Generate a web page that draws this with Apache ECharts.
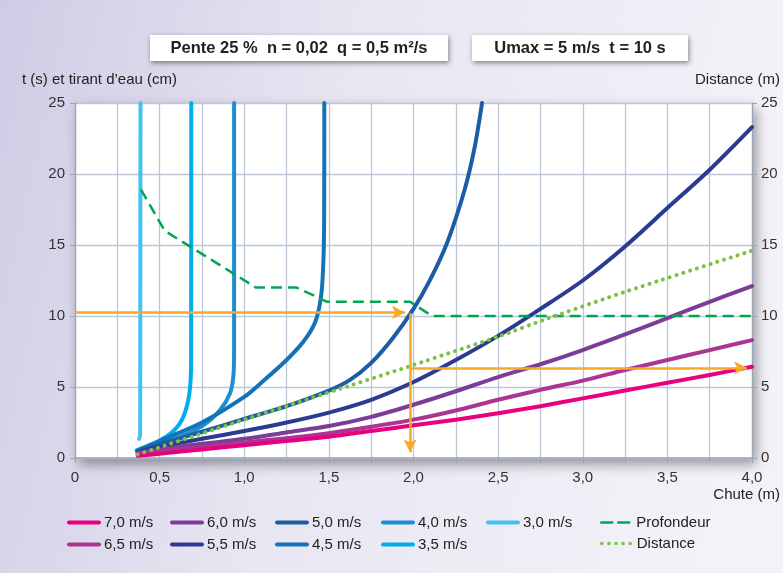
<!DOCTYPE html>
<html>
<head>
<meta charset="utf-8">
<script src="https://cdn.jsdelivr.net/npm/echarts@6/dist/echarts.min.js"></script>
<style>
html,body{margin:0;padding:0;}
#chart{width:783px;height:573px;}
</style>
</head>
<body>
<div id="chart"></div>
<script>
// ---- data (x = Chute (m), y = t (s) / tirant d'eau (cm) / Distance (m)) ----
const xTickValues = [0, 0.5, 1.0, 1.5, 2.0, 2.5, 3.0, 3.5, 4.0];
const xTickLabels = ['0', '0,5', '1,0', '1,5', '2,0', '2,5', '3,0', '3,5', '4,0'];
const yTickLabels = ['0', '5', '10', '15', '20', '25'];

const v30 = [[0.379,1.35],[0.385,1.6],[0.387,25]];
const v35 = [[0.365,0.55],[0.443,0.92],[0.54,1.5],[0.62,2.44],[0.66,3.6],[0.68,5.0],[0.686,6.8],[0.687,25]];
const v40 = [[0.37,0.5],[0.48,0.92],[0.62,1.5],[0.76,2.32],[0.857,3.38],[0.916,4.56],[0.936,5.8],[0.94,7.5],[0.94,25]];
const v45 = [[0.37,0.5],[0.5,1.2],[0.75,2.5],[1.0,4.3],[1.11,5.4],[1.25,6.9],[1.35,8.2],[1.42,9.6],[1.455,11.5],[1.468,14],[1.472,17],[1.473,25]];
const v50 = [[0.37,0.45],[0.5,0.95],[0.75,1.85],[1.0,2.75],[1.25,3.65],[1.5,4.75],[1.625,5.5],[1.75,6.7],[1.875,8.4],[2.0,10.5],[2.1,12.6],[2.2,15.2],[2.3,18.8],[2.36,21.8],[2.405,25]];
const v55 = [[0.37,0.42],[0.5,0.8],[0.75,1.35],[1.0,1.9],[1.25,2.5],[1.5,3.2],[1.75,4.1],[2.0,5.35],[2.25,6.9],[2.5,8.6],[2.75,10.5],[3.0,12.5],[3.25,14.9],[3.5,17.6],[3.75,20.3],[4.0,23.3]];
const v60 = [[0.37,0.35],[0.5,0.6],[0.75,1.0],[1.0,1.35],[1.25,1.8],[1.5,2.25],[1.75,2.9],[2.0,3.75],[2.25,4.7],[2.5,5.7],[2.75,6.6],[3.0,7.6],[3.25,8.7],[3.5,9.85],[3.75,11.0],[4.0,12.1]];
const v65 = [[0.37,0.3],[0.5,0.5],[0.75,0.8],[1.0,1.1],[1.25,1.4],[1.5,1.75],[1.75,2.2],[2.0,2.7],[2.25,3.35],[2.5,4.1],[2.75,4.8],[3.0,5.45],[3.25,6.2],[3.5,6.9],[3.75,7.6],[4.0,8.3]];
const v70 = [[0.37,0.15],[0.5,0.3],[0.75,0.6],[1.0,0.9],[1.25,1.2],[1.5,1.5],[1.75,1.9],[2.0,2.3],[2.25,2.7],[2.5,3.15],[2.75,3.65],[3.0,4.2],[3.25,4.75],[3.5,5.3],[3.75,5.85],[4.0,6.43]];
const profondeur = [[0.39,18.9],[0.53,16.0],[1.07,12.0],[1.31,12.0],[1.49,11.0],[1.98,11.0],[2.11,10.0],[4.0,10.0]];
const distance = [[0.37,0.25],[1.0,2.7],[1.625,5.1],[2.0,6.55],[2.5,8.55],[2.8,9.85],[3.25,11.7],[4.0,14.6]];

const arrowT = [[0, 10.25], [1.95, 10.25]];
const arrowChute = [[1.98, 10.2], [1.98, 0.4]];
const arrowDist = [[1.98, 6.35], [3.97, 6.35]];

const titleLeft = 'Pente 25 %  n = 0,02  q = 0,5 m²/s';
const titleRight = 'Umax = 5 m/s  t = 10 s';

// ---- chart ----
const FONT = '"Liberation Sans", Arial, Helvetica, sans-serif';
const chart = echarts.init(document.getElementById('chart'), null, {renderer: 'canvas'});

const curveDefs = [
  {name: '3,0 m/s', data: v30, color: '#45c1f1', smooth: false},
  {name: '3,5 m/s', data: v35, color: '#00aeef', smooth: 0.3},
  {name: '4,0 m/s', data: v40, color: '#1b8fd2', smooth: 0.3},
  {name: '4,5 m/s', data: v45, color: '#1472b9', smooth: 0.3},
  {name: '5,0 m/s', data: v50, color: '#1d5ca6', smooth: 0.3},
  {name: '5,5 m/s', data: v55, color: '#2c3b92', smooth: 0.3},
  {name: '6,0 m/s', data: v60, color: '#7b3d97', smooth: 0.3},
  {name: '6,5 m/s', data: v65, color: '#ac3592', smooth: 0.3},
  {name: '7,0 m/s', data: v70, color: '#e8007f', smooth: 0.3}
];

const series = curveDefs.map(d => ({
  name: d.name, type: 'line', data: d.data, smooth: d.smooth,
  showSymbol: false, symbol: 'none', z: 3,
  lineStyle: {color: d.color, width: 4, cap: 'round', join: 'round'},
  itemStyle: {color: d.color},
  emphasis: {disabled: true}
}));

series.push({
  name: 'Profondeur', type: 'line', data: profondeur, showSymbol: false, symbol: 'none', z: 4,
  lineStyle: {color: '#00a651', width: 2.5, type: [11, 6]},
  itemStyle: {color: '#00a651'}
});
series.push({
  name: 'Distance', type: 'line', yAxisIndex: 1, data: distance, showSymbol: false, symbol: 'none', z: 4,
  smooth: 0.2,
  lineStyle: {color: '#7cc242', width: 4, type: [0.1, 7], cap: 'round'},
  itemStyle: {color: '#7cc242'}
});

const arrowStyle = {color: '#f8a824', width: 2.5, type: 'solid'};
function arrowSeries(path) {
  return {
    type: 'line', data: [], silent: true, z: 5,
    markLine: {
      silent: true, symbol: ['none', 'arrow'], symbolSize: [10, 13],
      label: {show: false}, lineStyle: arrowStyle, animation: false,
      data: [[{coord: path[0]}, {coord: path[1]}]]
    }
  };
}
series.push(arrowSeries(arrowT), arrowSeries(arrowChute), arrowSeries(arrowDist));

const legendText = {fontFamily: FONT, fontSize: 15, color: '#222'};
function legendCol(names, left, lw) {
  return {
    data: names, orient: 'vertical', left: left, top: 510, itemGap: 7,
    itemWidth: 30, itemHeight: 14, textStyle: legendText, selectedMode: false,
    itemStyle: {opacity: 0},
    lineStyle: {width: lw || 4, cap: 'round'}
  };
}

const option = {
  animation: false,
  backgroundColor: new echarts.graphic.LinearGradient(0, 0, 1, 0.3, [
    {offset: 0, color: '#d0cbe5'},
    {offset: 0.45, color: '#e8e6f2'},
    {offset: 1, color: '#f3f2f8'}
  ]),
  textStyle: {fontFamily: FONT},
  grid: {
    left: 75, right: 31, top: 103, bottom: 115, show: true,
    backgroundColor: '#ffffff', borderWidth: 0,
    shadowColor: 'rgba(0,0,0,0.4)', shadowBlur: 12, shadowOffsetX: 4, shadowOffsetY: 6
  },
  xAxis: {
    type: 'value', min: 0, max: 4, interval: 0.25,
    axisLine: {show: true, lineStyle: {color: '#9aa5b5', width: 1.5}},
    axisTick: {show: true, length: 5, lineStyle: {color: '#9aa5b5'}},
    splitLine: {show: true, lineStyle: {color: '#bcc7d5', width: 1.3}},
    axisLabel: {
      fontSize: 15, color: '#333', fontFamily: FONT, margin: 12,
      showMinLabel: true, showMaxLabel: true,
      formatter: v => {
        const i = xTickValues.findIndex(t => Math.abs(t - v) < 1e-6);
        return i >= 0 ? xTickLabels[i] : '';
      }
    }
  },
  yAxis: [
    {
      type: 'value', min: 0, max: 25, interval: 5, position: 'left',
      axisLine: {show: true, lineStyle: {color: '#9aa5b5', width: 1.3}},
      axisTick: {show: true, length: 5, lineStyle: {color: '#9aa5b5'}},
      splitLine: {show: true, lineStyle: {color: '#bcc7d5', width: 1.3}},
      axisLabel: {fontSize: 15, color: '#333', fontFamily: FONT, margin: 10,
        formatter: v => yTickLabels[Math.round(v / 5)]}
    },
    {
      type: 'value', min: 0, max: 25, interval: 5, position: 'right',
      axisLine: {show: true, lineStyle: {color: '#9aa5b5', width: 1.3}},
      axisTick: {show: true, length: 5, lineStyle: {color: '#9aa5b5'}},
      splitLine: {show: false},
      axisLabel: {fontSize: 15, color: '#333', fontFamily: FONT, margin: 9,
        formatter: v => yTickLabels[Math.round(v / 5)]}
    }
  ],
  legend: [
    legendCol(['7,0 m/s', '6,5 m/s'], 62),
    legendCol(['6,0 m/s', '5,5 m/s'], 165),
    legendCol(['5,0 m/s', '4,5 m/s'], 270),
    legendCol(['4,0 m/s', '3,5 m/s'], 376),
    legendCol(['3,0 m/s'], 481),
    legendCol(['Profondeur'], 595, 2.5),
    Object.assign(legendCol(['Distance'], 595, 3.5), {top: 531})
  ],
  graphic: [
    {type: 'rect', left: 150, top: 35, shape: {width: 298, height: 26},
      style: {fill: '#ffffff', shadowColor: 'rgba(0,0,0,0.45)', shadowBlur: 5, shadowOffsetX: 1, shadowOffsetY: 2}, z: 10},
    {type: 'text', x: 299, y: 48, z: 11,
      style: {text: titleLeft, font: 'bold 16.5px ' + FONT, fill: '#222', align: 'center', verticalAlign: 'middle'}},
    {type: 'rect', left: 472, top: 35, shape: {width: 216, height: 26},
      style: {fill: '#ffffff', shadowColor: 'rgba(0,0,0,0.45)', shadowBlur: 5, shadowOffsetX: 1, shadowOffsetY: 2}, z: 10},
    {type: 'text', x: 580, y: 48, z: 11,
      style: {text: titleRight, font: 'bold 16.5px ' + FONT, fill: '#222', align: 'center', verticalAlign: 'middle'}},
    {type: 'text', x: 22, y: 80, z: 11,
      style: {text: 't (s) et tirant d’eau (cm)', font: '15px ' + FONT, fill: '#222', align: 'left', verticalAlign: 'middle'}},
    {type: 'text', x: 780, y: 80, z: 11,
      style: {text: 'Distance (m)', font: '15px ' + FONT, fill: '#222', align: 'right', verticalAlign: 'middle'}},
    {type: 'text', x: 780, y: 495, z: 11,
      style: {text: 'Chute (m)', font: '15px ' + FONT, fill: '#222', align: 'right', verticalAlign: 'middle'}}
  ],
  series: series
};
chart.setOption(option);
</script>
</body>
</html>
